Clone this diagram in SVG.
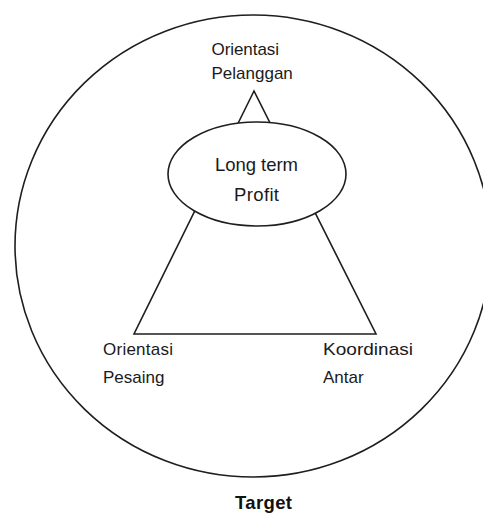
<svg xmlns="http://www.w3.org/2000/svg" width="483" height="515" viewBox="0 0 483 515">
<style>
.ln{fill:none;stroke:#1e1e1e;stroke-width:1.6}
.sh{fill:#fff;stroke:#1e1e1e;stroke-width:1.6}
.t{font-family:"Liberation Sans",Arial,sans-serif;font-size:17px;fill:#1a1a1a}
.tb{font-family:"Liberation Sans",Arial,sans-serif;font-size:18.5px;font-weight:bold;fill:#111}
</style>
<rect width="483" height="515" fill="#fff"/>
<g id="target">
<ellipse class="ln" cx="253" cy="246" rx="238" ry="231"/>
<text class="tb" x="235" y="509" textLength="57">Target</text>
</g>
<g id="connectors">
<polygon class="ln" points="254,91 134,334 376,334"/>
</g>
<g id="profit">
<ellipse class="sh" cx="257" cy="174" rx="89" ry="52"/>
<text class="t" style="font-size:18.5px" x="215" y="171" textLength="83">Long term</text>
<text class="t" style="font-size:18.5px" x="234" y="201" textLength="45">Profit</text>
</g>
<g id="pelanggan">
<text class="t" x="211.5" y="55" textLength="67.5">Orientasi</text>
<text class="t" x="211.5" y="79">Pelanggan</text>
</g>
<g id="pesaing">
<text class="t" x="103" y="355" textLength="70">Orientasi</text>
<text class="t" x="103" y="383">Pesaing</text>
</g>
<g id="koordinasi">
<text class="t" x="323" y="355" textLength="90" lengthAdjust="spacingAndGlyphs">Koordinasi</text>
<text class="t" x="323" y="383">Antar</text>
</g>
</svg>
